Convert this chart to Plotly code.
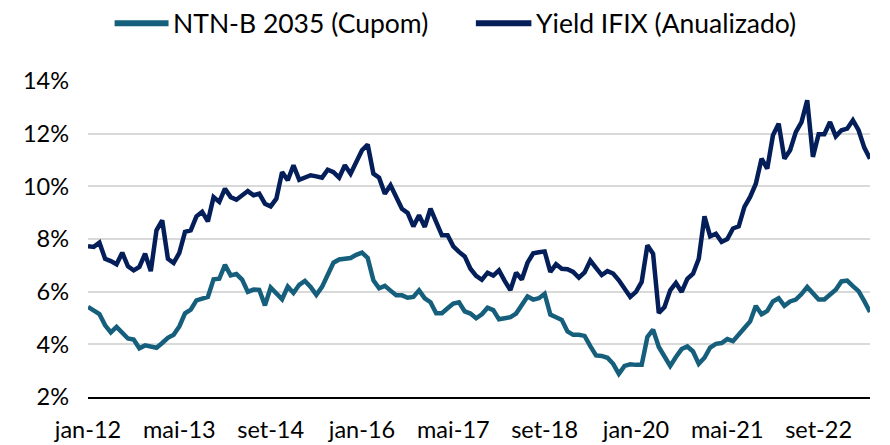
import plotly.graph_objects as go

# Monthly observations, Jan-2012 .. Jun-2023
meses = ["jan", "fev", "mar", "abr", "mai", "jun", "jul", "ago", "set", "out", "nov", "dez"]
periodos = [f"{meses[i % 12]}-{12 + i // 12:02d}" for i in range(138)]

ntnb_2035 = [
    5.42, 5.30, 5.15, 4.72, 4.45, 4.66, 4.41, 4.22, 4.18, 3.85, 3.96, 3.90,
    3.87, 4.05, 4.25, 4.36, 4.68, 5.18, 5.32, 5.67, 5.73, 5.80, 6.47, 6.49,
    7.02, 6.62, 6.67, 6.46, 5.99, 6.08, 6.07, 5.48, 6.16, 5.95, 5.71, 6.19,
    5.95, 6.26, 6.41, 6.18, 5.88, 6.18, 6.60, 7.10, 7.22, 7.26, 7.28, 7.40,
    7.48, 7.28, 6.43, 6.13, 6.22, 6.04, 5.86, 5.86, 5.77, 5.80, 6.05, 5.75,
    5.60, 5.18, 5.18, 5.37, 5.55, 5.60, 5.25, 5.17, 4.99, 5.14, 5.39, 5.30,
    4.95, 4.99, 5.03, 5.17, 5.51, 5.82, 5.70, 5.75, 5.92, 5.13, 5.03, 4.93,
    4.49, 4.36, 4.36, 4.32, 3.93, 3.58, 3.56, 3.49, 3.26, 2.88, 3.18, 3.24,
    3.22, 3.22, 4.28, 4.56, 3.90, 3.53, 3.18, 3.52, 3.82, 3.92, 3.73, 3.26,
    3.49, 3.88, 4.02, 4.05, 4.20, 4.12, 4.34, 4.62, 4.87, 5.46, 5.14, 5.27,
    5.63, 5.75, 5.46, 5.63, 5.70, 5.91, 6.18, 5.92, 5.70, 5.70, 5.89, 6.07,
    6.39, 6.42, 6.21, 6.02, 5.64, 5.23,
]

yield_ifix = [
    7.73, 7.70, 7.86, 7.25, 7.16, 7.04, 7.48, 6.96, 6.81, 6.94, 7.44, 6.78,
    8.33, 8.71, 7.25, 7.09, 7.47, 8.27, 8.33, 8.86, 9.03, 8.67, 9.59, 9.41,
    9.91, 9.59, 9.49, 9.66, 9.82, 9.66, 9.72, 9.34, 9.24, 9.53, 10.54, 10.23,
    10.80, 10.25, 10.33, 10.42, 10.38, 10.33, 10.63, 10.54, 10.33, 10.80, 10.48, 10.92,
    11.37, 11.59, 10.48, 10.33, 9.72, 10.04, 9.62, 9.15, 8.99, 8.48, 8.90, 8.46,
    9.15, 8.65, 8.14, 8.14, 7.72, 7.51, 7.34, 6.87, 6.60, 6.45, 6.72, 6.61,
    6.81, 6.41, 6.06, 6.72, 6.46, 7.10, 7.46, 7.50, 7.53, 6.75, 7.04, 6.87,
    6.85, 6.75, 6.53, 6.73, 7.18, 6.90, 6.63, 6.78, 6.69, 6.43, 6.12, 5.80,
    5.99, 6.37, 7.76, 7.44, 5.19, 5.42, 6.05, 6.33, 5.99, 6.49, 6.68, 7.25,
    8.86, 8.10, 8.20, 7.89, 8.00, 8.40, 8.48, 9.22, 9.60, 10.10, 11.05, 10.67,
    11.94, 12.38, 11.05, 11.37, 12.06, 12.44, 13.27, 11.12, 11.98, 11.98, 12.44, 11.90,
    12.13, 12.19, 12.51, 12.13, 11.47, 11.05,
]

series_names = ["NTN-B 2035 (Cupom)", "Yield IFIX (Anualizado)"]
series_colors = ["#155F7C", "#041E5A"]

x_ticks = periodos[::16]
y_ticks = [2, 4, 6, 8, 10, 12, 14]
y_ticktext = [f"{v}%" for v in y_ticks]

FONT = "Lato, 'Open Sans', sans-serif"

fig = go.Figure()
for name, vals, col in zip(series_names, [ntnb_2035, yield_ifix], series_colors):
    fig.add_trace(go.Scatter(
        x=periodos, y=vals, mode="lines", name=name,
        line=dict(color=col, width=4.5), showlegend=False,
    ))

# custom legend (longer line keys, like the original)
legend_x = [(0.034, 0.103, 0.106), (0.496, 0.567, 0.570)]
for (x0, x1, xt), name, col in zip(legend_x, series_names, series_colors):
    fig.add_shape(type="line", xref="paper", yref="paper", x0=x0, x1=x1,
                  y0=1.183, y1=1.183, line=dict(color=col, width=6))
    fig.add_annotation(xref="paper", yref="paper", x=xt, y=1.183, text=name,
                       showarrow=False, xanchor="left", yanchor="middle",
                       font=dict(family=FONT, size=26.5, color="#000000"))

fig.update_layout(
    width=890, height=445,
    margin=dict(l=88, r=20, t=81, b=48),
    paper_bgcolor="white", plot_bgcolor="white",
    font=dict(family=FONT, size=23.5, color="#000000"),
    showlegend=False,
)
fig.update_xaxes(
    type="category", range=[0, len(periodos) - 1],
    tickmode="array", tickvals=x_ticks, ticktext=x_ticks,
    showgrid=False, showline=True, linecolor="#000000", linewidth=2,
    ticks="", ticklabelstandoff=11, zeroline=False, automargin=False,
)
fig.update_yaxes(
    range=[2, 14], tickmode="array", tickvals=y_ticks, ticktext=y_ticktext,
    showgrid=True, gridcolor="#D9D9D9", gridwidth=1.5,
    showline=False, zeroline=False, ticks="", ticklabelstandoff=18, automargin=False,
)

fig.write_html("out.html", config={"displayModeBar": False},
               post_script="document.body.style.margin='0';")
